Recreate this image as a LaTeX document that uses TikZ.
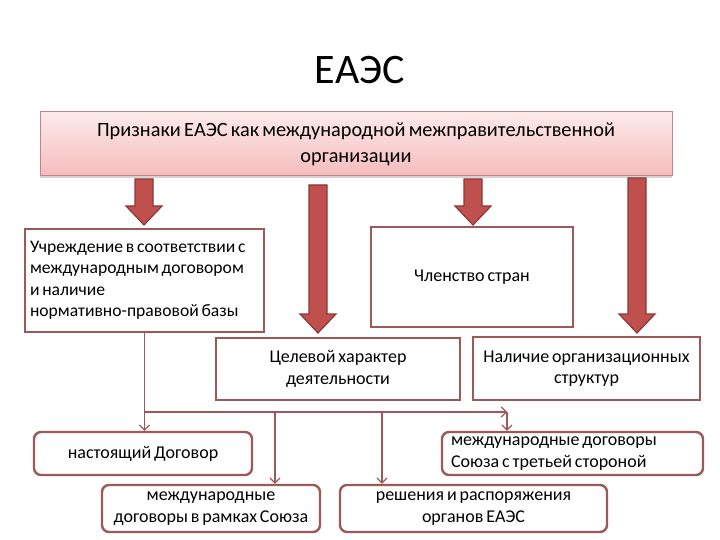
\documentclass[tikz,border=0pt]{standalone}
\usepackage{fontspec}
\setmainfont{Carlito}[WordSpace=0.7]
\usetikzlibrary{arrows.meta,shadows}
\definecolor{arrfill}{HTML}{C0504D}
\definecolor{arrdraw}{HTML}{8C3836}
\definecolor{boxline}{HTML}{9E5858}
\definecolor{topline}{HTML}{C48484}
\definecolor{toptop}{HTML}{FDEAEA}
\definecolor{topbot}{HTML}{F5BCBC}
\newcommand\blkarrow[4]{%
  \draw[blockarr] (#1-9,#2) -- (#1+9,#2) -- (#1+9,#3) -- (#1+18,#3) -- (#1,#4) -- (#1-18,#3) -- (#1-9,#3) -- cycle;}
\begin{document}
\begin{tikzpicture}[x=1pt,y=-1pt,
  sqbox/.style={draw=boxline,line width=1.8pt,fill=white,font=\fontsize{18}{21.5}\selectfont},
  rbox/.style={draw=boxline,line width=2.4pt,rounded corners=7pt,fill=white,font=\fontsize{18}{22}\selectfont},
  conn/.style={draw=boxline,line width=1.2pt},
  tip/.style={-{Straight Barb[length=5pt,width=10pt]}},
  blockarr/.style={fill=arrfill,draw=arrdraw,line width=1.2pt,line join=miter}
]
\useasboundingbox (0,0) rectangle (720,540);
\node[font=\fontsize{42}{46}\selectfont] (title) at (360,70) {ЕАЭС};
\node[draw=topline,line width=1pt,top color=toptop,bottom color=topbot,
  minimum width=632pt,minimum height=64pt,align=center,
  font=\fontsize{20.3}{26}\selectfont,
  drop shadow={shadow xshift=0pt,shadow yshift=-2pt,opacity=0.35}] (top) at (356,144)
  {Признаки ЕАЭС как международной межправительственной\\организации};
\blkarrow{144}{179}{206}{225}
\blkarrow{318}{185}{314}{333}
\blkarrow{473}{179}{206}{225}
\blkarrow{637}{178}{314}{333}
\node[sqbox,font=\fontsize{17.6}{21.5}\selectfont,minimum width=239pt,minimum height=103pt,
  inner xsep=5pt,text width=229pt,align=flush left] (A) at (144.5,280.5)
  {Учреждение в соответствии с\\международным договором\\и наличие\\нормативно-правовой базы};
\node[sqbox,minimum width=202pt,minimum height=100pt] (B) at (472,277) {Членство стран};
\node[sqbox,minimum width=244pt,minimum height=62pt,align=center] (C) at (338,369) {Целевой характер\\деятельности};
\node[sqbox,minimum width=227pt,minimum height=63pt,align=center] (D) at (586.5,368.5) {Наличие организационных\\структур};
\node[rbox,minimum width=218pt,minimum height=43pt] (E) at (143,453.5) {настоящий Договор};
\node[rbox,minimum width=218pt,minimum height=47pt,align=center,inner sep=1pt] (F) at (211,508.5) {международные\\договоры в рамках Союза};
\node[rbox,minimum width=267pt,minimum height=47pt,align=center,inner sep=1pt] (G) at (473.5,508.5) {решения и распоряжения\\органов ЕАЭС};
\node[rbox,minimum width=261pt,minimum height=43pt,text width=243pt,align=flush left,inner sep=1pt] (H) at (572.5,453.5) {международные договоры\\Союза с третьей стороной};
\coordinate (jL) at (144.5,412);
\coordinate (jF) at (275,412);
\coordinate (jG) at (382,412);
\coordinate (jR) at (507,412);
\draw[conn,tip] (A.south) -- (A.south |- E.north);
\draw[conn,tip] (jL) -- (jR);
\draw[conn,tip] (jR) -- (jR |- H.north);
\draw[conn,tip] (jF) -- (jF |- F.north);
\draw[conn,tip] (jG) -- (jG |- G.north);
\end{tikzpicture}
\end{document}
